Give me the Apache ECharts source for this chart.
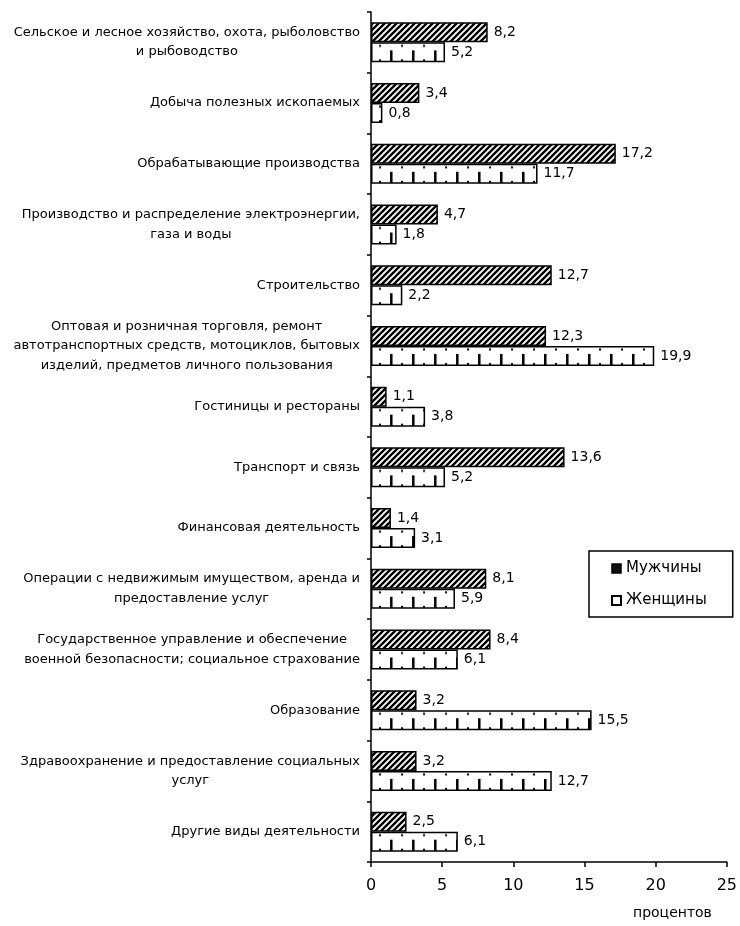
<!DOCTYPE html>
<html><head><meta charset="utf-8">
<script src="https://cdn.jsdelivr.net/npm/echarts@6/dist/echarts.min.js"></script>
<style>html,body{margin:0;padding:0;background:#fff}#c{width:740px;height:926px}</style>
</head><body><div id="c"></div>
<script>
const categories = [
  "Сельское и лесное хозяйство, охота, рыболовство\nи рыбоводство",
  "Добыча полезных ископаемых",
  "Обрабатывающие производства",
  "Производство и распределение электроэнергии,\nгаза и воды",
  "Строительство",
  "Оптовая и розничная торговля, ремонт\nавтотранспортных средств, мотоциклов, бытовых\nизделий, предметов личного пользования",
  "Гостиницы и рестораны",
  "Транспорт и связь",
  "Финансовая деятельность",
  "Операции с недвижимым имуществом, аренда и\nпредоставление услуг",
  "Государственное управление и обеспечение\nвоенной безопасности; социальное страхование",
  "Образование",
  "Здравоохранение и предоставление социальных\nуслуг",
  "Другие виды деятельности"
];
const menValues = [8.2, 3.4, 17.2, 4.7, 12.7, 12.3, 1.1, 13.6, 1.4, 8.1, 8.4, 3.2, 3.2, 2.5];
const womenValues = [5.2, 0.8, 11.7, 1.8, 2.2, 19.9, 3.8, 5.2, 3.1, 5.9, 6.1, 15.5, 12.7, 6.1];
const seriesNames = ["Мужчины", "Женщины"];
const xTicks = { min: 0, max: 25, interval: 5 };
const axisName = "процентов";

function hatchPattern() {
  const c = document.createElement('canvas');
  c.width = 6; c.height = 6;
  const g = c.getContext('2d');
  g.fillStyle = '#fff'; g.fillRect(0, 0, 6, 6);
  g.strokeStyle = '#000'; g.lineWidth = 2.4;
  g.beginPath();
  g.moveTo(-1, 7); g.lineTo(7, -1);
  g.moveTo(-4, 4); g.lineTo(4, -4);
  g.moveTo(2, 10); g.lineTo(10, 2);
  g.stroke();
  return c;
}
const tickCanvas = (function () {
  const c = document.createElement('canvas');
  c.width = 22; c.height = 20;
  const g = c.getContext('2d');
  g.fillStyle = '#fff'; g.fillRect(0, 0, 22, 20);
  g.fillStyle = '#000';
  g.fillRect(16, 8, 2.5, 12);
  g.fillRect(5, 2.5, 2, 2);
  g.fillRect(5, 17, 2, 2);
  return c;
})();
const hatchCanvas = hatchPattern();

const chart = echarts.init(document.getElementById('c'), null, { renderer: 'canvas' });
const FONT = 'DejaVu Sans, sans-serif';
const fmt = p => String(p.value).replace('.', ',');

const option = {
  animation: false,
  backgroundColor: '#fff',
  textStyle: { fontFamily: FONT, color: '#000' },
  grid: { left: 371, right: 9, top: 12, height: 850 },
  legend: {
    orient: 'vertical',
    left: 589, top: 551,
    padding: [10, 26, 9, 22],
    itemGap: 17,
    itemWidth: 9, itemHeight: 9,
    borderColor: '#000', borderWidth: 1.5,
    textStyle: { fontSize: 15, color: '#000', fontFamily: FONT },
    data: [
      { name: seriesNames[0], icon: 'rect', itemStyle: { color: '#111', borderColor: '#000', borderWidth: 1.5 } },
      { name: seriesNames[1], icon: 'rect', itemStyle: { color: '#fff', borderColor: '#000', borderWidth: 2 } }
    ]
  },
  xAxis: {
    type: 'value',
    min: xTicks.min, max: xTicks.max, interval: xTicks.interval,
    axisLine: { show: true, lineStyle: { color: '#000', width: 1.5 } },
    axisTick: { show: true, length: 5, lineStyle: { color: '#000', width: 1.5 } },
    splitLine: { show: false },
    axisLabel: { fontSize: 16, color: '#000', margin: 16, fontFamily: FONT }
  },
  yAxis: {
    type: 'category',
    inverse: true,
    data: categories,
    axisLine: { lineStyle: { color: '#000', width: 1.5 } },
    axisTick: { show: true, length: 4, lineStyle: { color: '#000', width: 1.5 } },
    axisLabel: {
      margin: 11,
      formatter: v => v.split('\n').map(l => '{c|' + l + '}').join('\n'),
      rich: { c: { align: 'center', fontSize: 13, lineHeight: 19.5, color: '#000', fontFamily: FONT } }
    }
  },
  graphic: [{
    type: 'text', left: 633, top: 906,
    style: { text: axisName, font: '14px ' + FONT, fill: '#000' }
  }],
  series: [
    {
      name: seriesNames[0], type: 'bar', data: menValues,
      barWidth: 20, barGap: '0%',
      itemStyle: { color: { image: hatchCanvas, repeat: 'repeat' }, borderColor: '#000', borderWidth: 1.5 },
      label: { show: true, position: 'right', distance: 6, formatter: fmt, fontSize: 14, color: '#000', fontFamily: FONT }
    },
    {
      name: seriesNames[1], type: 'bar', data: womenValues,
      barWidth: 20, barGap: '0%',
      itemStyle: { color: { image: tickCanvas, repeat: 'repeat' }, borderColor: '#000', borderWidth: 1.5 },
      label: { show: true, position: 'right', distance: 6, formatter: fmt, fontSize: 14, color: '#000', fontFamily: FONT }
    }
  ]
};
chart.setOption(option);
// align the women pattern vertically with each bar's top edge (band centre from the axis scale)
const womenData = womenValues.map((v, i) => {
  const yc = chart.convertToPixel({ yAxisIndex: 0 }, i);
  return { value: v, itemStyle: { color: { image: tickCanvas, repeat: 'repeat', x: 0, y: yc } } };
});
chart.setOption({ series: [{}, { data: womenData }] });
</script></body></html>
